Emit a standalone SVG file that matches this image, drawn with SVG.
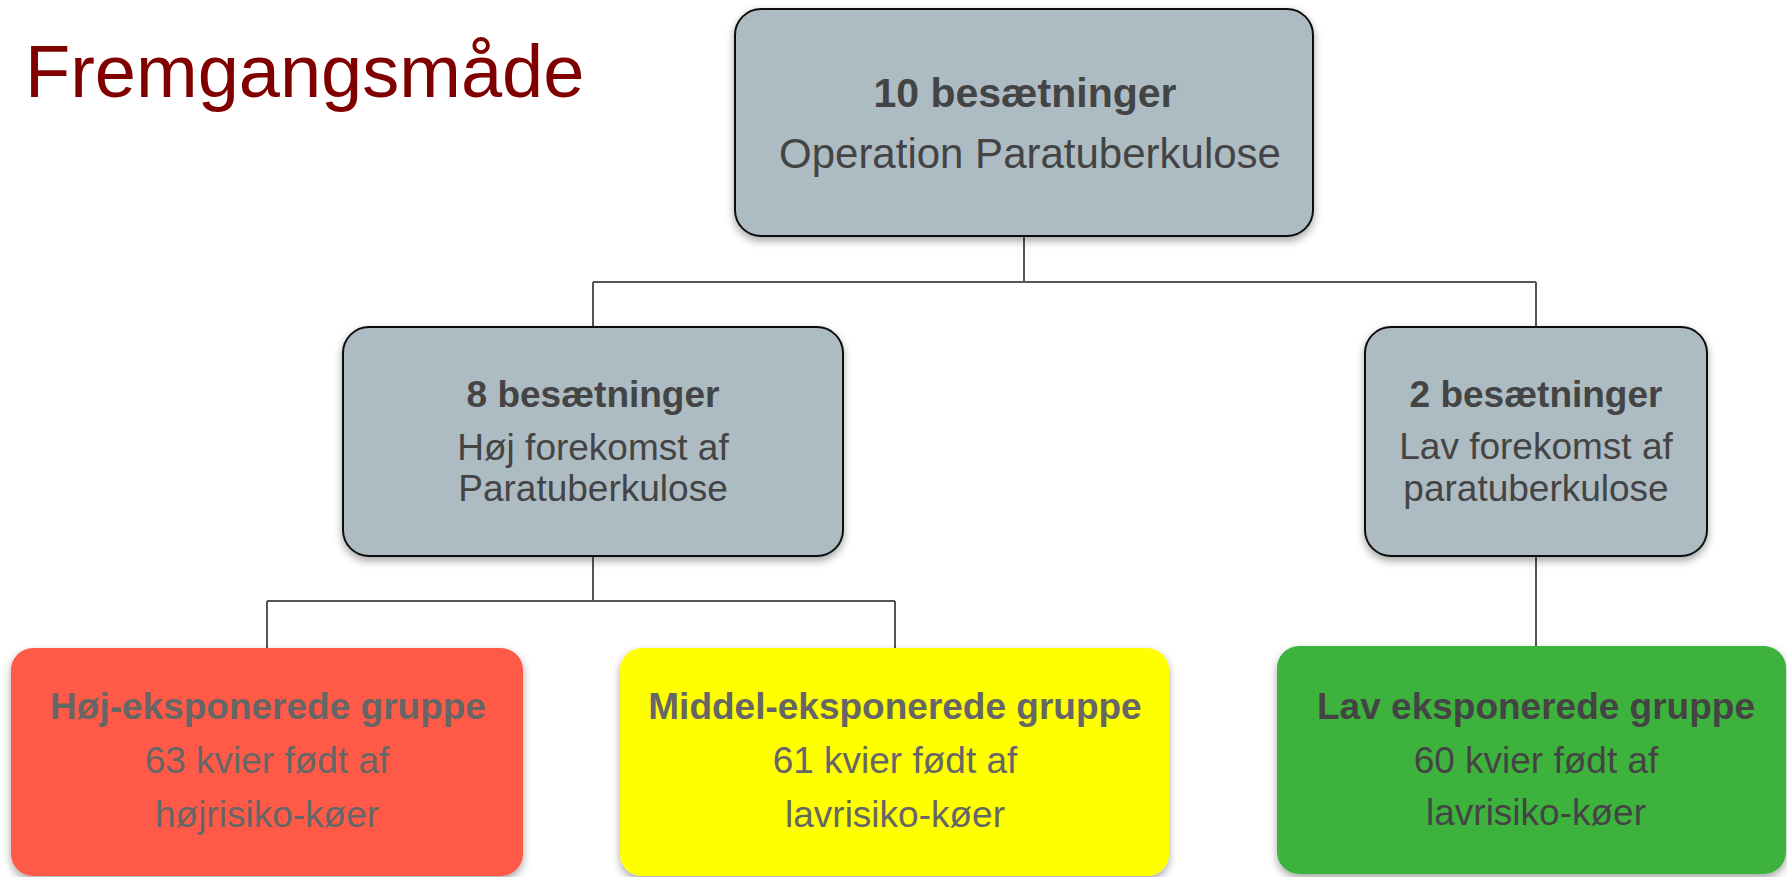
<svg xmlns="http://www.w3.org/2000/svg" width="1787" height="877" viewBox="0 0 1787 877">
<defs>
<filter id="sh" x="-10%" y="-10%" width="120%" height="130%">
<feDropShadow dx="0" dy="4" stdDeviation="4" flood-color="#000" flood-opacity="0.35"/>
</filter>
<style>
.t{font-family:"Liberation Sans",Arial,sans-serif;text-anchor:middle}
.b{font-weight:bold}
.g{fill:#ADBBC3;stroke:#111;stroke-width:2}
.dk{fill:#444444}
.lt{fill:#666666}
.c{fill:none;stroke:#555;stroke-width:2}
</style>
</defs>
<rect width="1787" height="877" fill="#fff"/>
<text x="25" y="97" font-family="Liberation Sans, Arial, sans-serif" font-size="74" fill="#800000">Fremgangsmåde</text>
<g id="connectors">
<path class="c" d="M1024 236V282M593 282H1536M593 282V327M1536 282V327"/>
<path class="c" d="M593 556V601M267 601H895M267 601V648M895 601V648M1536 556V646"/>
</g>
<g id="n10">
<rect class="g" x="735" y="9" width="578" height="227" rx="26" filter="url(#sh)"/>
<text class="t b dk" x="1025" y="107" font-size="41">10 besætninger</text>
<text class="t dk" x="1030" y="168" font-size="42">Operation Paratuberkulose</text>
</g>
<g id="n8">
<rect class="g" x="343" y="327" width="500" height="229" rx="26" filter="url(#sh)"/>
<text class="t b dk" x="593" y="407" font-size="37">8 besætninger</text>
<text class="t dk" x="593" y="460" font-size="37">Høj forekomst af</text>
<text class="t dk" x="593" y="501" font-size="37">Paratuberkulose</text>
</g>
<g id="n2">
<rect class="g" x="1365" y="327" width="342" height="229" rx="26" filter="url(#sh)"/>
<text class="t b dk" x="1536" y="407" font-size="37">2 besætninger</text>
<text class="t dk" x="1536" y="459" font-size="37">Lav forekomst af</text>
<text class="t dk" x="1536" y="501" font-size="37">paratuberkulose</text>
</g>
<g id="hoj">
<rect x="11" y="648" width="512" height="228" rx="22" fill="#FF5A47" filter="url(#sh)"/>
<text class="t b lt" x="268" y="719" font-size="37">Høj-eksponerede gruppe</text>
<text class="t lt" x="267" y="773" font-size="37">63 kvier født af</text>
<text class="t lt" x="267" y="827" font-size="37">højrisiko-køer</text>
</g>
<g id="middel">
<rect x="620" y="648" width="549" height="228" rx="22" fill="#FFFF00" filter="url(#sh)"/>
<text class="t b lt" x="895" y="719" font-size="37">Middel-eksponerede gruppe</text>
<text class="t lt" x="895" y="773" font-size="37">61 kvier født af</text>
<text class="t lt" x="895" y="827" font-size="37">lavrisiko-køer</text>
</g>
<g id="lav">
<rect x="1277" y="646" width="509" height="228" rx="22" fill="#3DB33D" filter="url(#sh)"/>
<text class="t b dk" x="1536" y="719" font-size="37">Lav eksponerede gruppe</text>
<text class="t dk" x="1536" y="773" font-size="37">60 kvier født af</text>
<text class="t dk" x="1536" y="825" font-size="37">lavrisiko-køer</text>
</g>
</svg>
